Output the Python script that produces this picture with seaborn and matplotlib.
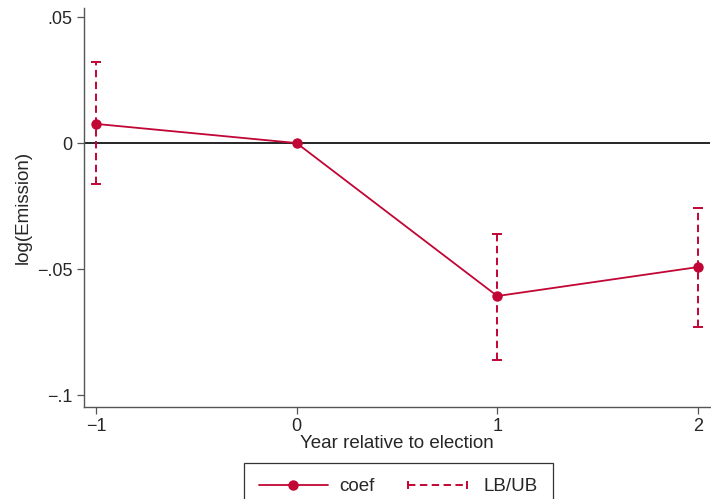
import matplotlib
matplotlib.use("Agg")
import matplotlib.pyplot as plt
import seaborn as sns
import pandas as pd
from matplotlib.lines import Line2D
from matplotlib.legend_handler import HandlerLine2D

# Event-study estimates by year relative to the election
years = [-1, 0, 1, 2]
coef = [0.0076, 0.0, -0.0607, -0.0492]
lower = [-0.0163, 0.0, -0.0861, -0.0730]
upper = [0.0321, 0.0, -0.0361, -0.0258]

xticks = [-1, 0, 1, 2]
xtick_labels = ["\u22121", "0", "1", "2"]
yticks = [0.05, 0.0, -0.05, -0.1]
ytick_labels = [".05", "0", "\u2212.05", "\u2212.1"]

sns.set_style("white")
plt.rcParams["font.family"] = ["Liberation Sans", "DejaVu Sans"]

red = "#C10534"
dash = (0, (3.8, 2.3))
df = pd.DataFrame({"year": years, "coef": coef, "lb": lower, "ub": upper})

fig = plt.figure(figsize=(7.11, 4.99), dpi=100)
ax = fig.add_axes([0.118, 0.184, 0.8806, 0.80])

ax.axhline(0, color="black", lw=1.2, zorder=1)

# confidence intervals (skip the reference year)
ci = df[df["year"] != 0]
eb = ax.errorbar(ci["year"], ci["coef"],
                 yerr=[ci["coef"] - ci["lb"], ci["ub"] - ci["coef"]],
                 fmt="none", ecolor=red, elinewidth=1.4, capsize=3.3,
                 capthick=1.4, zorder=2)
for col in eb[2]:
    col.set_linestyle(dash)

sns.lineplot(data=df, x="year", y="coef", ax=ax, color=red, lw=1.3,
             marker="o", markersize=7.5, markeredgewidth=0, zorder=3)

ax.set_xlim(-1.06, 2.06)
ax.set_ylim(-0.1048, 0.0536)
ax.set_xticks(xticks)
ax.set_xticklabels(xtick_labels)
ax.set_yticks(yticks)
ax.set_yticklabels(ytick_labels)
ax.tick_params(axis="both", direction="out", length=5, width=0.9,
               color="#555555", labelsize=13, left=True, bottom=True,
               pad=3)
ax.set_xlabel("Year relative to election", fontsize=13.5, labelpad=0)
ax.set_ylabel("log(Emission)", fontsize=13.5, labelpad=4)

for side in ["top", "right"]:
    ax.spines[side].set_visible(False)
for side in ["left", "bottom"]:
    ax.spines[side].set_color("#555555")
    ax.spines[side].set_linewidth(1.0)

h_coef = Line2D([], [], color=red, lw=1.3, marker="o", markersize=7.5,
                markeredgewidth=0)
h_ci = Line2D([], [], color=red, lw=1.4, linestyle=dash,
              marker="|", markersize=6, markeredgewidth=1.4)
leg = fig.legend([h_coef, h_ci], ["coef", "LB/UB"], loc="upper center",
                 bbox_to_anchor=(0.56, 0.072), ncol=2, fontsize=13.5,
                 frameon=True, fancybox=False, edgecolor="black",
                 handlelength=3.7, handletextpad=0.6, columnspacing=1.5,
                 borderpad=0.8, borderaxespad=0,
                 handler_map={h_coef: HandlerLine2D(numpoints=1),
                              h_ci: HandlerLine2D(numpoints=2)})
leg.get_frame().set_linewidth(0.9)

fig.savefig("out.png", dpi=100)
